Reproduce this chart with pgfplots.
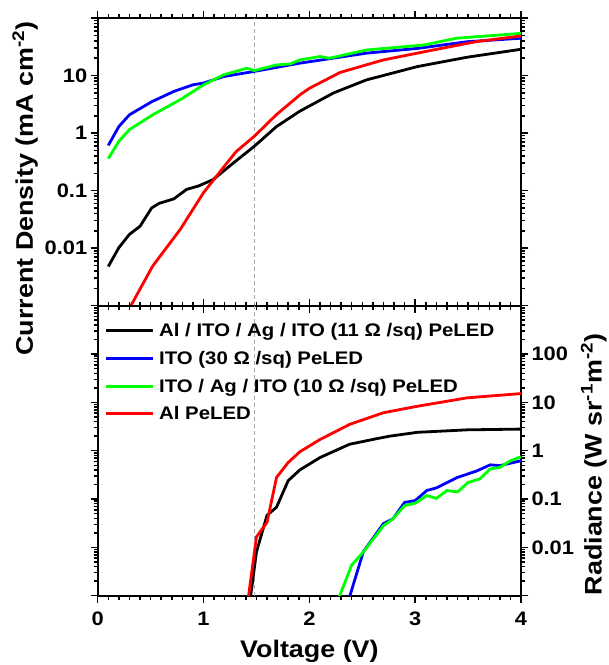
\documentclass[border=0pt]{standalone}
\usepackage{fontspec}
\setmainfont{Liberation Sans}[FakeStretch=1.12]
\usepackage{pgfplots}
\pgfplotsset{compat=1.18}
\tikzset{
 dat/.style={line width=2.8bp},
 vline/.style={gray!70, line width=0.8bp, dash pattern=on 4bp off 3bp},
}
\begin{document}
\begin{tikzpicture}
% ---------- top panel: current density ----------
\begin{axis}[scale only axis, width=423.3bp, height=287.7bp,
  at={(0bp,290bp)}, anchor=south west,
  xmin=0, xmax=4, ymode=log, ymin=1e-3, ymax=1e2,
  xtick={0,1,2,3,4}, minor x tick num=9, xticklabels={},
  tick align=outside, major tick length=7bp, minor tick length=4bp,
  tick style={black, line width=1.5bp},
  axis line style={line width=2bp},
  tick label style={font=\bfseries\fontsize{19.5bp}{22bp}\selectfont},
  ytick={0.001,0.01,0.1,1,10,100}, yticklabels={,0.01,0.1,1,10,},
  minor ytick={0.002,0.003,0.004,0.005,0.006,0.007,0.008,0.009,
   0.02,0.03,0.04,0.05,0.06,0.07,0.08,0.09,
   0.2,0.3,0.4,0.5,0.6,0.7,0.8,0.9,
   2,3,4,5,6,7,8,9,20,30,40,50,60,70,80,90}]
\addplot[vline] coordinates {(1.48,0.001) (1.48,100)};
\addplot[dat, black] coordinates {
(0.10,0.0048) (0.20,0.0102) (0.30,0.0174) (0.40,0.024) (0.51,0.050) (0.58,0.060)
(0.72,0.072) (0.84,0.105) (0.95,0.12) (1.09,0.155) (1.28,0.30) (1.48,0.59)
(1.69,1.3) (1.91,2.4) (2.23,5.0) (2.54,8.4) (3.02,14.3) (3.49,20.8) (4.00,28.6)};
\addplot[dat, blue] coordinates {
(0.10,0.61) (0.20,1.3) (0.30,2.08) (0.51,3.5) (0.72,5.3) (0.90,6.9) (1.00,7.4)
(1.19,9.6) (1.47,11.7) (1.91,16.4) (2.54,24.5) (3.02,29.6) (3.49,38.7) (4.00,44.5)};
\addplot[dat, green] coordinates {
(0.10,0.36) (0.20,0.72) (0.30,1.15) (0.52,2.08) (0.78,3.8) (1.00,6.9) (1.19,10.3)
(1.41,13.4) (1.48,12.2) (1.69,15.3) (1.82,15.9) (1.91,18.7) (2.10,21.4) (2.19,20.0)
(2.54,27.8) (3.08,33.9) (3.39,44.5) (4.00,54)};
\addplot[dat, red] coordinates {
(0.30,0.0009) (0.52,0.0049) (0.78,0.0212) (1.00,0.092) (1.22,0.30) (1.31,0.48)
(1.48,0.88) (1.69,2.1) (1.91,4.6) (2.00,6.0) (2.29,11.3) (2.70,18.7) (3.17,27.8)
(3.58,38.9) (4.00,48.7)};
\end{axis}
% ---------- bottom panel: radiance ----------
\begin{axis}[scale only axis, width=423.3bp, height=290bp,
  at={(0bp,0bp)}, anchor=south west,
  xmin=0, xmax=4, ymode=log, ymin=1e-3, ymax=1e3,
  xtick={0,1,2,3,4}, minor x tick num=9, xticklabels={0,1,2,3,4},
  tick align=outside, major tick length=7bp, minor tick length=4bp,
  tick style={black, line width=1.5bp},
  axis line style={line width=2bp},
  tick label style={font=\bfseries\fontsize{19.5bp}{22bp}\selectfont},
  xticklabel style={yshift=-6bp},
  ytick={0.001,0.01,0.1,1,10,100,1000}, yticklabels={,0.01,0.1,1,10,100,},
  yticklabel pos=right,
  minor ytick={0.002,0.003,0.004,0.005,0.006,0.007,0.008,0.009,
   0.02,0.03,0.04,0.05,0.06,0.07,0.08,0.09,
   0.2,0.3,0.4,0.5,0.6,0.7,0.8,0.9,
   2,3,4,5,6,7,8,9,20,30,40,50,60,70,80,90,200,300,400,500,600,700,800,900},
  legend style={draw=none, fill=none, at={(0,1)}, anchor=north west,
    xshift=4bp, yshift=-15bp, row sep=0bp,
    font=\bfseries\fontsize{18.2bp}{20bp}\selectfont,
    nodes={inner xsep=5bp, inner ysep=0bp, text height=14bp, text depth=13.7bp}},
  legend cell align=left,
  legend image code/.code={\draw[#1] (0bp,6bp) -- (46.5bp,6bp);}]
\addplot[vline, forget plot] coordinates {(1.48,0.001) (1.48,1000)};
\addplot[dat, black] coordinates {
(1.44,0.0008) (1.50,0.008) (1.60,0.046) (1.69,0.068) (1.80,0.24) (1.91,0.40)
(2.10,0.72) (2.38,1.36) (2.64,1.78) (2.76,2.0) (3.02,2.4) (3.49,2.7) (4.00,2.8)};
\addlegendentry{Al / ITO / Ag / ITO (11 Ω /sq) PeLED}
\addplot[dat, blue] coordinates {
(2.37,0.0008) (2.51,0.0081) (2.70,0.031) (2.79,0.039) (2.90,0.085) (3.00,0.093)
(3.11,0.15) (3.20,0.17) (3.40,0.28) (3.58,0.38) (3.71,0.51) (3.80,0.49) (4.00,0.62)};
\addlegendentry{ITO (30 Ω /sq) PeLED}
\addplot[dat, green] coordinates {
(2.27,0.0008) (2.40,0.0043) (2.51,0.008) (2.70,0.028) (2.79,0.039) (2.90,0.073)
(3.00,0.082) (3.11,0.118) (3.20,0.103) (3.30,0.15) (3.40,0.14) (3.50,0.22)
(3.61,0.26) (3.71,0.42) (3.80,0.45) (3.90,0.62) (4.00,0.75)};
\addlegendentry{ITO / Ag / ITO (10 Ω /sq) PeLED}
\addplot[dat, red] coordinates {
(1.42,0.0008) (1.50,0.0164) (1.60,0.033) (1.69,0.28) (1.80,0.57) (1.91,0.95)
(2.10,1.7) (2.38,3.5) (2.70,6.1) (3.02,8.3) (3.49,12.4) (4.00,15.2)};
\addlegendentry{Al PeLED}
\end{axis}
\node[rotate=90, anchor=base, font=\bfseries\fontsize{24bp}{28bp}\selectfont]
  at (-64.7bp,407.2bp) {Current Density (mA cm\textsuperscript{-2})};
\node[rotate=90, anchor=base, font=\bfseries\fontsize{24bp}{28bp}\selectfont]
  at (504bp,131.2bp) {Radiance (W sr\textsuperscript{-1}m\textsuperscript{-2})};
\node[anchor=base, font=\bfseries\fontsize{24bp}{28bp}\selectfont]
  at (211.7bp,-61.7bp) {Voltage (V)};
\pgfresetboundingbox
\path[use as bounding box] (-97.7bp,-69.3bp) rectangle (511.3bp,595.7bp);
\end{tikzpicture}
\end{document}
